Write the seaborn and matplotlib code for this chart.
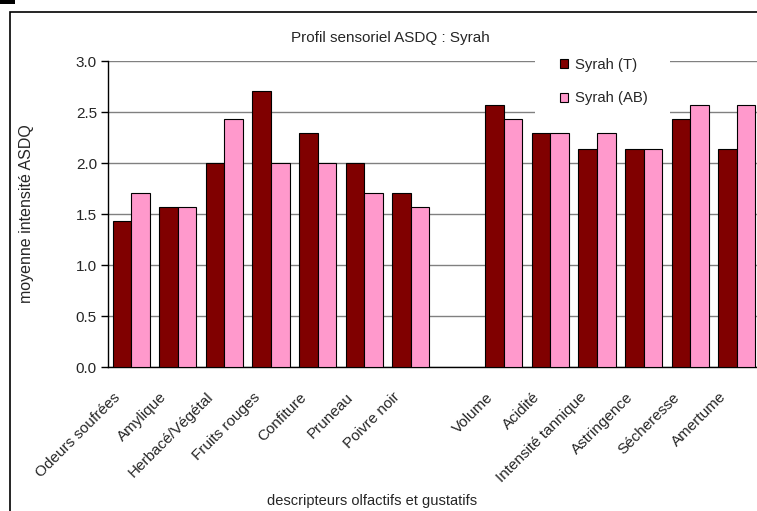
import numpy as np
import pandas as pd
import seaborn as sns
import matplotlib.pyplot as plt
from matplotlib.patches import Rectangle

# descriptors (blank slot separates olfactory / gustatory)
descripteurs = ["Odeurs soufrées", "Amylique", "Herbacé/Végétal", "Fruits rouges",
                "Confiture", "Pruneau", "Poivre noir", " ",
                "Volume", "Acidité", "Intensité tannique", "Astringence",
                "Sécheresse", "Amertume"]
syrah_t = [1.43, 1.57, 2.00, 2.71, 2.29, 2.00, 1.71, np.nan,
           2.57, 2.29, 2.14, 2.14, 2.43, 2.14]
syrah_ab = [1.71, 1.57, 2.43, 2.00, 2.00, 1.71, 1.57, np.nan,
            2.43, 2.29, 2.29, 2.14, 2.57, 2.57]
series = ["Syrah (T)", "Syrah (AB)"]
couleurs = ["#800000", "#FF99CC"]

df = pd.DataFrame({
    "descripteur": descripteurs * 2,
    "serie": [series[0]] * len(descripteurs) + [series[1]] * len(descripteurs),
    "valeur": syrah_t + syrah_ab,
})

sns.set_style("white")
plt.rcParams["font.family"] = ["Liberation Sans", "DejaVu Sans"]

fig = plt.figure(figsize=(7.57, 5.11), dpi=100)
ax = fig.add_axes([108 / 757, 1 - 367 / 511, 652 / 757, 306 / 511])

sns.barplot(data=df, x="descripteur", y="valeur", hue="serie", order=descripteurs,
            hue_order=series, palette=couleurs, width=0.8, edgecolor="black",
            linewidth=0.8, saturation=1, errorbar=None, ax=ax, zorder=3)

ax.set_ylim(0, 3.0)
ax.set_yticks(np.arange(0, 3.01, 0.5))
ax.set_yticklabels([f"{v:.1f}" for v in np.arange(0, 3.01, 0.5)], fontsize=11)
ax.set_xlim(-0.5, len(descripteurs) - 0.5)
ax.set_xticks(np.arange(-0.5, len(descripteurs) - 0.5, 1), minor=True)
ax.set_xticks(range(len(descripteurs)))
ax.set_xticklabels([])
# rotated category labels, slightly left of each slot centre
for i, nom in enumerate(descripteurs):
    ax.annotate(nom, xy=(i, 0), xycoords=("data", "axes fraction"),
                xytext=(-13, -16.5), textcoords="offset points",
                rotation=45, ha="right", va="top", rotation_mode="anchor",
                fontsize=11, annotation_clip=False)
ax.tick_params(axis="x", which="major", length=0)
ax.tick_params(axis="x", which="minor", length=5, width=1, color="black", direction="out")
ax.tick_params(axis="y", length=5, width=1, color="black", direction="out", left=True, pad=3)
ax.yaxis.grid(True, color="#808080", linewidth=1, zorder=0)
ax.set_axisbelow(True)
for s in ["top", "right"]:
    ax.spines[s].set_visible(False)
for s in ["left", "bottom"]:
    ax.spines[s].set_color("black")
    ax.spines[s].set_linewidth(1)

ax.set_xlabel("descripteurs olfactifs et gustatifs", fontsize=10.5)
ax.xaxis.set_label_coords((372 - 108) / 652, -(501 - 367) / 306)
ax.xaxis.label.set_va("center")
ax.set_ylabel("moyenne intensité ASDQ", fontsize=11.5)
ax.yaxis.set_label_coords(-(108 - 27) / 652, 0.5)
ax.yaxis.label.set_va("center")

# legend: white area hiding the gridlines, entries on top
ax.add_patch(Rectangle((535 / 757, 1 - 117 / 511), 135 / 757, 77 / 511,
                       transform=fig.transFigure, facecolor="white",
                       edgecolor="none", zorder=1, clip_on=False))
leg = ax.legend(loc="upper left", bbox_to_anchor=(560 / 757, 1 - 58 / 511),
                bbox_transform=fig.transFigure, borderaxespad=0, borderpad=0,
                frameon=False, fontsize=10.7, handlelength=0.55, handleheight=0.55,
                handletextpad=0.45, labelspacing=1.3)
leg.set_zorder(5)

fig.text(390 / 757, 1 - 38 / 511, "Profil sensoriel ASDQ : Syrah", ha="center",
         va="center", fontsize=11)

# chart frame and small marker at top-left
fig.patches.append(Rectangle((10 / 757, -0.1), 1.2, 1 - 12 / 511 + 0.1,
                             transform=fig.transFigure, fill=False,
                             edgecolor="black", linewidth=1.2))
fig.patches.append(Rectangle((0, 1 - 4 / 511), 15 / 757, 4 / 511,
                             transform=fig.transFigure, facecolor="black",
                             edgecolor="none"))

fig.savefig("out.png", dpi=100)
